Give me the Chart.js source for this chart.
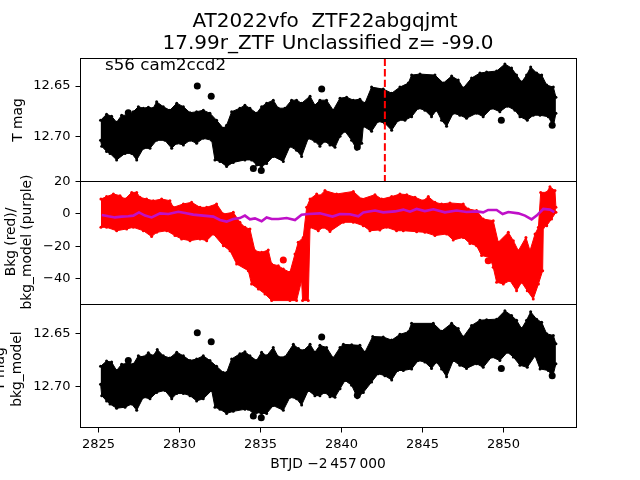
<!DOCTYPE html>
<html>
<head>
<meta charset="utf-8">
<title>AT2022vfo</title>
<script src="https://cdn.jsdelivr.net/npm/chart.js@4/dist/chart.umd.min.js"></script>
<style>
  html, body { margin: 0; padding: 0; background: #fff; }
  canvas { display: block; }
</style>
</head>
<body>
<canvas id="lc" width="640" height="480"></canvas>
<script>
const xTicks = [2825, 2830, 2835, 2840, 2845, 2850];
const topTicks = [12.65, 12.70];
const midTicks = [20, 0, -20, -40];
const botTicks = [12.65, 12.70];
const eventTime = 2842.68;

// top panel, T mag: upper and lower edge of the point cloud
const topHiT = [2825.13, 2825.50, 2825.81, 2826.12, 2826.43, 2826.84, 2827.15, 2827.46, 2827.77, 2828.08, 2828.38, 2828.59, 2829.00, 2829.41, 2829.83, 2830.24, 2830.65, 2831.06, 2831.47, 2831.88, 2832.29, 2832.71, 2832.91, 2833.22, 2833.73, 2834.04, 2834.35, 2834.76, 2835.07, 2835.38, 2835.79, 2836.10, 2836.51, 2836.92, 2837.23, 2837.54, 2838.06, 2838.36, 2838.67, 2839.08, 2839.49, 2839.91, 2840.32, 2840.73, 2841.14, 2841.45, 2841.86, 2842.58, 2843.10, 2843.61, 2844.13, 2844.33, 2844.85, 2845.77, 2846.29, 2846.80, 2847.21, 2847.52, 2848.03, 2848.55, 2848.96, 2849.58, 2850.09, 2850.50, 2850.81, 2851.12, 2851.43, 2851.68, 2852.05, 2852.36, 2852.67, 2853.08, 2853.24];
const topHi = [12.684, 12.678, 12.680, 12.686, 12.679, 12.679, 12.6755, 12.6705, 12.672, 12.671, 12.672, 12.6656, 12.6705, 12.674, 12.667, 12.6705, 12.6765, 12.6755, 12.674, 12.677, 12.684, 12.692, 12.689, 12.6755, 12.672, 12.669, 12.672, 12.677, 12.6705, 12.667, 12.664, 12.672, 12.672, 12.664, 12.664, 12.667, 12.660, 12.669, 12.664, 12.664, 12.674, 12.662, 12.661, 12.664, 12.663, 12.667, 12.651, 12.653, 12.657, 12.651, 12.647, 12.639, 12.638, 12.639, 12.647, 12.640, 12.644, 12.652, 12.642, 12.637, 12.636, 12.635, 12.628, 12.632, 12.639, 12.646, 12.639, 12.631, 12.637, 12.639, 12.649, 12.651, 12.661];
const topLoT = [2825.13, 2825.20, 2825.50, 2825.71, 2826.12, 2826.64, 2827.05, 2827.36, 2827.77, 2828.18, 2828.59, 2829.10, 2829.52, 2829.83, 2830.24, 2830.65, 2831.06, 2831.47, 2831.99, 2832.19, 2832.50, 2832.91, 2833.32, 2834.04, 2834.45, 2834.76, 2835.07, 2835.38, 2835.79, 2836.41, 2836.82, 2837.23, 2837.54, 2837.95, 2838.36, 2838.67, 2838.98, 2839.29, 2839.60, 2839.91, 2840.22, 2840.63, 2840.94, 2841.25, 2841.35, 2841.86, 2842.27, 2842.68, 2843.10, 2843.51, 2843.92, 2844.33, 2844.74, 2845.15, 2845.56, 2845.87, 2846.18, 2846.49, 2846.90, 2847.31, 2847.72, 2848.34, 2848.75, 2849.27, 2849.78, 2850.24, 2850.71, 2851.02, 2851.47, 2851.84, 2852.26, 2852.77, 2853.08, 2853.24];
const topLo = [12.704, 12.710, 12.715, 12.717, 12.7235, 12.717, 12.717, 12.7235, 12.712, 12.712, 12.704, 12.704, 12.712, 12.707, 12.7086, 12.704, 12.707, 12.702, 12.704, 12.7235, 12.725, 12.730, 12.726, 12.7235, 12.7235, 12.7285, 12.730, 12.727, 12.720, 12.725, 12.710, 12.714, 12.720, 12.702, 12.705, 12.710, 12.705, 12.7086, 12.711, 12.700, 12.695, 12.704, 12.713, 12.707, 12.690, 12.695, 12.685, 12.687, 12.694, 12.684, 12.684, 12.6805, 12.672, 12.674, 12.6805, 12.674, 12.684, 12.690, 12.677, 12.679, 12.682, 12.677, 12.6805, 12.672, 12.6755, 12.670, 12.674, 12.6805, 12.684, 12.679, 12.679, 12.6805, 12.690, 12.677];
const topOutT = [2826.84, 2831.10, 2831.96, 2834.56, 2835.05, 2838.78, 2840.98, 2849.87, 2853.01];
const topOut = [12.6765, 12.650, 12.660, 12.732, 12.734, 12.653, 12.7106, 12.684, 12.689];

// middle panel, background flux (red) and model (purple)
const midHiT = [2825.15, 2825.50, 2825.92, 2826.33, 2826.64, 2827.05, 2827.36, 2827.56, 2827.97, 2828.38, 2828.90, 2829.41, 2829.62, 2830.24, 2830.75, 2831.27, 2831.68, 2832.29, 2832.71, 2833.32, 2833.73, 2834.04, 2834.35, 2834.66, 2835.07, 2835.48, 2835.69, 2836.10, 2836.41, 2836.82, 2837.13, 2837.33, 2837.64, 2837.85, 2838.06, 2838.47, 2838.67, 2838.98, 2839.70, 2840.73, 2841.25, 2842.07, 2842.48, 2843.10, 2843.61, 2844.03, 2844.54, 2845.05, 2845.36, 2845.77, 2846.18, 2846.70, 2847.52, 2847.83, 2848.34, 2848.75, 2849.37, 2849.68, 2850.30, 2850.61, 2850.92, 2851.39, 2851.64, 2851.95, 2852.16, 2852.30, 2852.67, 2852.87, 2853.18, 2853.24];
const midHi = [9.2, 10.7, 12.3, 11.3, 9.2, 13.3, 13.3, 10.3, 9.2, 8.2, 9.2, 8.2, 4.1, 6.2, 7.2, 4.1, 4.1, 6.2, 0, 1, -5.1, -8.2, -9.2, -22.6, -23.6, -22.2, -30.8, -31.8, -33.8, -35.9, -24.6, -17.4, -14.4, 4.1, 9.2, 12.3, 11.3, 14.4, 12.3, 13.9, 9.2, 11.9, 9.2, 10.7, 12.3, 11.9, 10.3, 8.2, 10.7, 7.2, 6.2, 6.8, 6.2, 3.1, 2.1, -3.1, -4.1, -17.4, -11.3, -16.4, -22.6, -14.4, -22.6, -12.3, -8.2, 13.3, 13.3, 16.8, 14.4, 4.1];
const midLoT = [2825.15, 2825.50, 2826.12, 2826.74, 2827.15, 2827.77, 2828.28, 2828.59, 2829.21, 2829.72, 2830.13, 2830.65, 2831.27, 2831.68, 2832.09, 2832.71, 2833.12, 2833.53, 2834.25, 2834.45, 2834.87, 2835.28, 2835.69, 2836.82, 2837.23, 2837.54, 2837.60, 2837.95, 2838.06, 2838.57, 2838.88, 2839.29, 2840.12, 2840.73, 2841.35, 2841.76, 2842.37, 2842.78, 2843.40, 2843.82, 2844.64, 2845.15, 2845.77, 2846.49, 2846.90, 2847.52, 2847.93, 2848.34, 2848.65, 2849.16, 2849.37, 2849.58, 2849.99, 2850.40, 2850.81, 2851.12, 2851.47, 2851.84, 2852.16, 2852.42, 2852.46, 2852.67, 2852.97, 2853.24];
const midLo = [-8.2, -8.2, -10.3, -9.2, -8.2, -10.3, -13.9, -11.3, -10.3, -13.3, -15.4, -16.4, -15.4, -16.4, -12.3, -19.5, -22.6, -30.8, -34.9, -43.1, -46.2, -49.2, -53.3, -53.3, -53.3, -41, -53.3, -53.3, -8.2, -10.3, -8.2, -10.7, -5.1, -5.1, -7.2, -10.3, -9.8, -8.2, -10.3, -10.3, -10.9, -11.3, -13.3, -12.3, -16, -14.4, -18.1, -19.5, -25.6, -26.7, -32.8, -42, -43.1, -41, -47.2, -42, -47.2, -52.3, -43.1, -34.9, -8.2, -7.2, -3.1, 1];
const midOutT = [2836.41, 2849.06];
const midOut = [-28.3, -28.7];
const modelT = [2825.20, 2825.61, 2826.02, 2826.43, 2826.84, 2827.15, 2827.50, 2827.87, 2828.28, 2828.80, 2829.31, 2829.93, 2830.34, 2830.85, 2831.47, 2832.09, 2832.50, 2832.91, 2833.32, 2833.73, 2834.04, 2834.35, 2834.66, 2835.07, 2835.38, 2835.69, 2836.10, 2836.62, 2837.13, 2837.54, 2837.95, 2838.67, 2839.08, 2839.45, 2839.91, 2840.52, 2841.04, 2841.35, 2842.07, 2842.58, 2843.30, 2843.82, 2844.23, 2844.64, 2845.15, 2845.67, 2846.39, 2847.11, 2847.72, 2848.34, 2848.75, 2849.06, 2849.58, 2849.95, 2850.30, 2850.92, 2851.33, 2851.74, 2852.05, 2852.46, 2852.87, 2853.14];
const model = [-0.6, -1.4, -2.1, -1.6, -1.4, -1, 1, -1, -2.1, 0.4, 0, 1.4, 0.6, -0.4, -1, -1.6, -3.7, -4.7, -3.1, -2.5, -1, -3.3, -2.7, -4.5, -2.1, -3.1, -3.1, -2.5, -3.7, -0.4, 0, 0.4, -0.6, -1.6, 0, -0.2, -1.4, 1, 2.1, 1, 1.6, 2.7, 1.4, 3.1, 1.8, 2.9, 1, 2.1, 1.2, 1.6, 1, 2.5, 2.5, 0, 1.2, 0.4, -1, -3.3, -1, 3.1, 2.7, 1.2];

// bottom panel, T mag / bkg_model
const botHiT = [2825.13, 2825.50, 2825.81, 2826.12, 2826.43, 2826.84, 2827.15, 2827.46, 2827.77, 2828.08, 2828.38, 2828.63, 2829.00, 2829.41, 2829.83, 2830.24, 2830.65, 2831.06, 2831.47, 2831.88, 2832.29, 2832.71, 2832.91, 2833.22, 2833.73, 2834.04, 2834.35, 2834.76, 2835.07, 2835.38, 2835.79, 2836.10, 2836.51, 2837.03, 2837.34, 2837.65, 2838.06, 2838.36, 2838.67, 2839.08, 2839.49, 2839.91, 2840.12, 2840.63, 2841.14, 2841.45, 2841.93, 2842.58, 2843.10, 2843.61, 2844.13, 2844.33, 2845.67, 2846.18, 2846.80, 2847.21, 2847.52, 2848.03, 2848.55, 2848.96, 2849.58, 2850.09, 2850.50, 2850.81, 2851.12, 2851.43, 2851.68, 2852.05, 2852.36, 2852.67, 2853.08, 2853.24];
const botHi = [12.681, 12.676, 12.677, 12.685, 12.679, 12.678, 12.679, 12.671, 12.672, 12.668, 12.671, 12.665, 12.671, 12.673, 12.6675, 12.671, 12.6755, 12.674, 12.671, 12.6755, 12.681, 12.687, 12.687, 12.674, 12.669, 12.667, 12.671, 12.6755, 12.6675, 12.671, 12.663, 12.672, 12.672, 12.660, 12.664, 12.666, 12.660, 12.6675, 12.661, 12.663, 12.673, 12.663, 12.660, 12.6605, 12.661, 12.6675, 12.6525, 12.653, 12.656, 12.6505, 12.648, 12.640, 12.640, 12.6475, 12.640, 12.645, 12.653, 12.642, 12.637, 12.6365, 12.636, 12.628, 12.6325, 12.637, 12.645, 12.637, 12.629, 12.636, 12.639, 12.650, 12.6515, 12.6595];
const botLoT = [2825.13, 2825.20, 2825.50, 2825.71, 2826.12, 2826.64, 2827.05, 2827.36, 2827.77, 2828.18, 2828.59, 2829.10, 2829.52, 2829.83, 2830.24, 2830.65, 2831.06, 2831.47, 2831.99, 2832.19, 2832.50, 2832.91, 2833.32, 2834.04, 2834.25, 2834.56, 2834.76, 2835.07, 2835.38, 2835.79, 2836.41, 2836.82, 2837.23, 2837.54, 2837.95, 2838.36, 2838.67, 2838.98, 2839.29, 2839.60, 2839.91, 2840.22, 2840.63, 2840.98, 2841.35, 2841.86, 2842.27, 2842.68, 2843.10, 2843.47, 2843.82, 2844.33, 2844.74, 2845.15, 2845.56, 2845.87, 2846.18, 2846.49, 2846.90, 2847.31, 2847.72, 2848.34, 2848.75, 2849.27, 2849.78, 2850.24, 2850.61, 2851.02, 2851.47, 2851.95, 2852.26, 2852.77, 2853.04, 2853.24];
const botLo = [12.698, 12.709, 12.714, 12.717, 12.721, 12.720, 12.717, 12.723, 12.7105, 12.712, 12.706, 12.704, 12.712, 12.707, 12.707, 12.709, 12.714, 12.712, 12.704, 12.720, 12.722, 12.726, 12.724, 12.722, 12.722, 12.726, 12.725, 12.726, 12.726, 12.7185, 12.723, 12.7105, 12.712, 12.718, 12.704, 12.709, 12.709, 12.706, 12.710, 12.7105, 12.7025, 12.6945, 12.699, 12.711, 12.706, 12.696, 12.688, 12.690, 12.694, 12.685, 12.685, 12.6835, 12.6755, 12.677, 12.683, 12.677, 12.6835, 12.691, 12.6755, 12.680, 12.683, 12.6785, 12.682, 12.672, 12.6755, 12.6675, 12.672, 12.680, 12.682, 12.671, 12.6835, 12.685, 12.691, 12.6785];
const botOutT = [2826.84, 2831.10, 2831.96, 2834.56, 2835.05, 2838.78, 2840.98, 2849.87, 2853.01];
const botOut = [12.6755, 12.649, 12.6575, 12.7285, 12.730, 12.653, 12.7085, 12.683, 12.690];

const xyPairs = (xs, ys) => xs.map((x, i) => ({ x, y: ys[i] }));

function band(hiT, hi, loT, lo, color, axis) {
  const common = { type: "line", yAxisID: axis, borderColor: color, backgroundColor: color, pointBackgroundColor: color, borderWidth: 1, pointRadius: 1.5, pointBorderWidth: 0, tension: 0 };
  return [
    { ...common, data: xyPairs(hiT, hi), fill: "+1" },
    { ...common, data: xyPairs(loT, lo), fill: false }
  ];
}

function outliers(ts, ys, color, axis) {
  return { type: "scatter", yAxisID: axis, data: xyPairs(ts, ys), pointRadius: 3.5, borderWidth: 0, pointBackgroundColor: color };
}

const datasets = [
  { type: "line", yAxisID: "yMid", data: xyPairs(modelT, model), borderColor: "#bf10c8", borderWidth: 2.6, pointRadius: 0, fill: false, tension: 0 },
  { type: "line", yAxisID: "yTop", data: [{ x: eventTime, y: 12.6225 }, { x: eventTime, y: 12.745 }], borderColor: "#ff0000", borderWidth: 2, borderDash: [7.4, 3.2], pointRadius: 0, fill: false },
  outliers(topOutT, topOut, "#000000", "yTop"),
  ...band(topHiT, topHi, topLoT, topLo, "#000000", "yTop"),
  outliers(midOutT, midOut, "#ff0000", "yMid"),
  ...band(midHiT, midHi, midLoT, midLo, "#ff0000", "yMid"),
  outliers(botOutT, botOut, "#000000", "yBot"),
  ...band(botHiT, botHi, botLoT, botLo, "#000000", "yBot")
];

const font = "DejaVu Sans";

// y axes share one column, so the width is pinned rather than measured
function yAxis(min, max, ticks, reverse, weight, format) {
  return {
    position: "left",
    stack: "panels",
    stackWeight: 1,
    weight,
    min,
    max,
    reverse,
    grid: { drawOnChartArea: false, tickLength: 5, tickColor: "#000", tickWidth: 1 },
    border: { display: false },
    afterBuildTicks: (scale) => { scale.ticks = ticks.map((value) => ({ value })); },
    afterFit: (scale) => { scale.width = 80.5; },
    ticks: { font: { family: font, size: 13 }, color: "#000", padding: 5, autoSkip: false, maxRotation: 0, callback: format }
  };
}

const magLabel = (v) => v.toFixed(2);
const bkgLabel = (v) => (v < 0 ? "\u2212" + Math.abs(v) : String(v));

const framePlugin = {
  id: "frame",
  afterDraw(chart) {
    const { ctx, chartArea, scales } = chart;
    ctx.save();
    ctx.strokeStyle = "#000";
    ctx.lineWidth = 1;
    ["yTop", "yMid", "yBot"].forEach((id) => {
      ctx.strokeRect(chartArea.left, scales[id].top, chartArea.width, scales[id].height);
    });
    ctx.fillStyle = "#000";
    ctx.textAlign = "center";
    ctx.textBaseline = "alphabetic";
    ctx.font = `20px "${font}"`;
    ctx.fillText("AT2022vfo  ZTF22abgqjmt", 325, 27);
    ctx.fillText("17.99r_ZTF Unclassified z= -99.0", 328, 49);
    ctx.font = `16.7px "${font}"`;
    ctx.textAlign = "left";
    ctx.fillText("s56 cam2ccd2", 105, 70);
    ctx.font = `13.8px "${font}"`;
    ctx.textAlign = "center";
    ctx.fillText("BTJD \u22122\u2009457\u2009000", 328, 468);
    [["T mag", 22, 120], ["Bkg (red)/", 15, 242], ["bkg_model (purple)", 31, 242], ["T mag", 4, 369], ["bkg_model", 21, 369]].forEach(([text, x, y]) => {
      ctx.save();
      ctx.translate(x, y);
      ctx.rotate(-Math.PI / 2);
      ctx.fillText(text, 0, 0);
      ctx.restore();
    });
    ctx.restore();
  }
};

new Chart(document.getElementById("lc"), {
  data: { datasets },
  plugins: [framePlugin],
  options: {
    animation: false,
    responsive: false,
    layout: { padding: { left: 0, right: 63.5, top: 58.5, bottom: 0 } },
    plugins: { legend: { display: false }, title: { display: false }, tooltip: { enabled: false } },
    scales: {
      x: {
        type: "linear",
        min: 2823.89,
        max: 2854.51,
        grid: { drawOnChartArea: false, tickLength: 5, tickColor: "#000" },
        border: { display: false },
        afterBuildTicks: (scale) => { scale.ticks = xTicks.map((value) => ({ value })); },
        afterFit: (scale) => { scale.height = 52.5; },
        ticks: { font: { family: font, size: 13 }, color: "#000", padding: 4, autoSkip: false, maxRotation: 0, callback: (v) => String(v) }
      },
      yTop: yAxis(12.6225, 12.745, topTicks, true, 3, magLabel),
      yMid: yAxis(-55.7, 20, midTicks, false, 2, bkgLabel),
      yBot: yAxis(12.622, 12.7394, botTicks, true, 1, magLabel)
    }
  }
});
</script>
</body>
</html>
